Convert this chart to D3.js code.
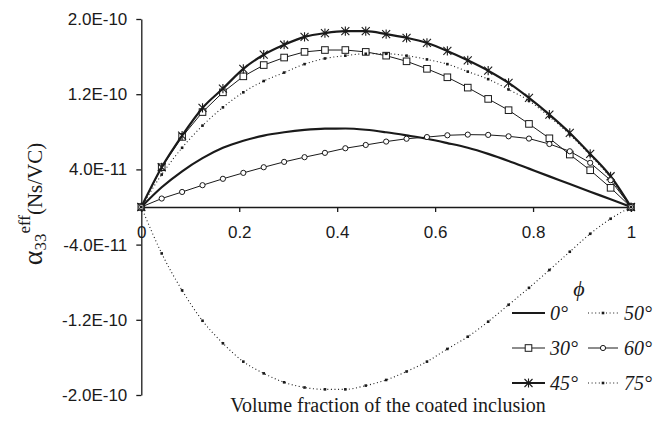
<!DOCTYPE html>
<html>
<head>
<meta charset="utf-8">
<script src="https://cdn.jsdelivr.net/npm/d3@7"></script>
<style>
  html, body { margin: 0; padding: 0; background: #fff; }
  svg { display: block; }
</style>
</head>
<body>
<svg id="chart" width="656" height="431"></svg>
<script>
// ---- data (values in units of 1e-11 Ns/VC) ----
const volumeFraction = d3.range(25).map(k => k / 24);
const phi0  = [0, 2.1, 3.8, 5.2, 6.3, 7.05, 7.6, 7.95, 8.2, 8.33, 8.35, 8.22, 7.95, 7.62, 7.26, 6.8, 6.3, 5.65, 4.9, 4.08, 3.26, 2.45, 1.63, 0.82, 0];
const phi30 = [0, 4.23, 7.46, 10.1, 12.2, 13.9, 15.1, 15.9, 16.5, 16.7, 16.7, 16.5, 16.1, 15.5, 14.7, 13.8, 12.7, 11.5, 10.3, 8.84, 7.31, 5.58, 3.91, 2.04, 0];
const phi45 = [0, 4.23, 7.6, 10.54, 12.6, 14.7, 16.2, 17.26, 18.1, 18.5, 18.7, 18.7, 18.4, 18.0, 17.45, 16.6, 15.6, 14.5, 13.2, 11.6, 9.83, 7.88, 5.65, 3.27, 0];
const phi50 = [0, 3.45, 6.3, 8.66, 10.6, 12.2, 13.4, 14.3, 15.2, 15.8, 16.1, 16.3, 16.3, 16.1, 15.7, 15.2, 14.4, 13.6, 12.5, 11.3, 9.6, 7.7, 5.5, 3.1, 0];
const phi60 = [0, 0.9, 1.6, 2.32, 3.0, 3.63, 4.23, 4.8, 5.3, 5.76, 6.25, 6.6, 6.96, 7.26, 7.44, 7.63, 7.7, 7.67, 7.52, 7.28, 6.7, 5.93, 4.7, 2.85, 0];
const phi75 = [0, -4.94, -8.87, -12.1, -14.5, -16.45, -17.7, -18.65, -19.2, -19.4, -19.4, -19.0, -18.4, -17.5, -16.45, -15.1, -13.8, -12.2, -10.4, -8.6, -6.7, -4.76, -2.85, -1.25, 0];
const unit = 1e-11;

const xTickValues = [0, 0.2, 0.4, 0.6, 0.8, 1];
const xTickLabels = ["0", "0.2", "0.4", "0.6", "0.8", "1"];
const yTickValues = [-2e-10, -1.2e-10, -4e-11, 4e-11, 1.2e-10, 2e-10];
const yTickLabels = ["-2.0E-10", "-1.2E-10", "-4.0E-11", "4.0E-11", "1.2E-10", "2.0E-10"];

const seriesNames = ["0°", "30°", "45°", "50°", "60°", "75°"];
const seriesValues = [phi0, phi30, phi45, phi50, phi60, phi75];
const seriesStyle = [
  {width: 2.2, dash: null, marker: null, curve: "smooth"},
  {width: 1, dash: null, marker: "square", curve: "linear"},
  {width: 2.2, dash: null, marker: "asterisk", curve: "smooth"},
  {width: 1.1, dash: "1,2.6", marker: "dot", curve: "smooth"},
  {width: 1, dash: null, marker: "circle", curve: "linear"},
  {width: 1.1, dash: "1,2.6", marker: "dot", curve: "smooth"}
];

// ---- layout ----
const svg = d3.select("#chart");
const ink = "#1a1a1a";
const x = d3.scaleLinear().domain([0, 1]).range([141.3, 631]);
const y = d3.scaleLinear().domain([-2e-10, 2e-10]).range([395, 19]);

// y axis
const yAxis = svg.append("g")
  .attr("transform", `translate(${x(0)},0)`)
  .call(d3.axisLeft(y).tickValues(yTickValues).tickFormat((d, i) => yTickLabels[i]).tickSize(5).tickSizeOuter(0).tickPadding(9));
yAxis.select(".domain").attr("stroke", ink).attr("stroke-width", 1.3);
yAxis.selectAll(".tick line").attr("stroke", ink).attr("stroke-width", 1.3);
yAxis.selectAll(".tick text").attr("fill", ink).style("font-family", "'Liberation Sans', Arial, sans-serif").style("font-size", "17px");

// x axis at y=0
const xAxis = svg.append("g")
  .attr("transform", `translate(0,${y(0)})`)
  .call(d3.axisBottom(x).tickValues(xTickValues).tickFormat((d, i) => xTickLabels[i]).tickSize(5).tickSizeOuter(0).tickPadding(14));
xAxis.select(".domain").attr("stroke", ink).attr("stroke-width", 1.3);
xAxis.selectAll(".tick line").attr("stroke", ink).attr("stroke-width", 1.3);
xAxis.selectAll(".tick text").attr("fill", ink).style("font-family", "'Liberation Sans', Arial, sans-serif").style("font-size", "17px");

// ---- markers ----
function drawMarker(g, type, cx, cy) {
  if (type === "square") {
    g.append("rect").attr("x", cx - 3.3).attr("y", cy - 3.3).attr("width", 6.6).attr("height", 6.6)
      .attr("fill", "#fff").attr("stroke", ink).attr("stroke-width", 1);
  } else if (type === "circle") {
    g.append("circle").attr("cx", cx).attr("cy", cy).attr("r", 2.6)
      .attr("fill", "#fff").attr("stroke", ink).attr("stroke-width", 1);
  } else if (type === "asterisk") {
    const s = 4;
    g.append("path").attr("d", `M${cx - s},${cy - s}L${cx + s},${cy + s}M${cx - s},${cy + s}L${cx + s},${cy - s}M${cx},${cy - s - 0.6}L${cx},${cy + s + 0.6}`)
      .attr("stroke", ink).attr("stroke-width", 1.1).attr("fill", "none");
  } else if (type === "dot") {
    g.append("rect").attr("x", cx - 1.3).attr("y", cy - 1.3).attr("width", 2.6).attr("height", 2.6).attr("fill", ink);
  }
}

// ---- series ----
const plot = svg.append("g");
seriesValues.forEach((vals, si) => {
  const st = seriesStyle[si];
  const pts = vals.map((v, i) => [volumeFraction[i], v * unit]);
  const line = d3.line().x(d => x(d[0])).y(d => y(d[1]))
    .curve(st.curve === "smooth" ? d3.curveMonotoneX : d3.curveLinear);
  plot.append("path").attr("d", line(pts)).attr("fill", "none")
    .attr("stroke", ink).attr("stroke-width", st.width)
    .attr("stroke-dasharray", st.dash);
  if (st.marker) {
    const mg = plot.append("g");
    pts.forEach(p => drawMarker(mg, st.marker, x(p[0]), y(p[1])));
  }
});

// ---- axis titles ----
svg.append("text")
  .attr("x", 388).attr("y", 412)
  .attr("text-anchor", "middle")
  .style("font-family", "'Liberation Serif', 'Times New Roman', serif")
  .style("font-size", "20px").attr("fill", ink)
  .text("Volume fraction of the coated inclusion");

const yt = svg.append("text")
  .attr("transform", "translate(42,204) rotate(-90)")
  .attr("text-anchor", "middle")
  .style("font-family", "'Liberation Serif', 'Times New Roman', serif")
  .attr("fill", ink);
yt.append("tspan").style("font-size", "28px").text("α");
yt.append("tspan").style("font-size", "17px").attr("dy", 4).text("33");
yt.append("tspan").style("font-size", "17px").attr("dy", -16).text("eff");
yt.append("tspan").style("font-size", "21px").attr("dy", 12).text("(Ns/VC)");

// ---- legend ----
const lg = svg.append("g");
lg.append("text").attr("x", 579).attr("y", 296).attr("text-anchor", "middle")
  .style("font-family", "'Liberation Serif', 'Times New Roman', serif").style("font-style", "italic")
  .style("font-size", "22px").attr("fill", ink).text("ϕ");
const legendCols = [[512, 545, 550], [588, 618, 624]];
const legendRows = [313, 348, 383];
const legendOrder = [[0, 3], [1, 4], [2, 5]];
legendOrder.forEach((row, ri) => {
  row.forEach((si, ci) => {
    const st = seriesStyle[si];
    const [x1, x2, tx] = legendCols[ci];
    const cy = legendRows[ri];
    lg.append("line").attr("x1", x1).attr("x2", x2).attr("y1", cy).attr("y2", cy)
      .attr("stroke", ink).attr("stroke-width", st.width).attr("stroke-dasharray", st.dash);
    if (st.marker) drawMarker(lg, st.marker, (x1 + x2) / 2, cy);
    lg.append("text").attr("x", tx).attr("y", cy + 6.5)
      .style("font-family", "'Liberation Serif', 'Times New Roman', serif").style("font-style", "italic")
      .style("font-size", "20px").attr("fill", ink).text(seriesNames[si]);
  });
});
</script>
</body>
</html>
